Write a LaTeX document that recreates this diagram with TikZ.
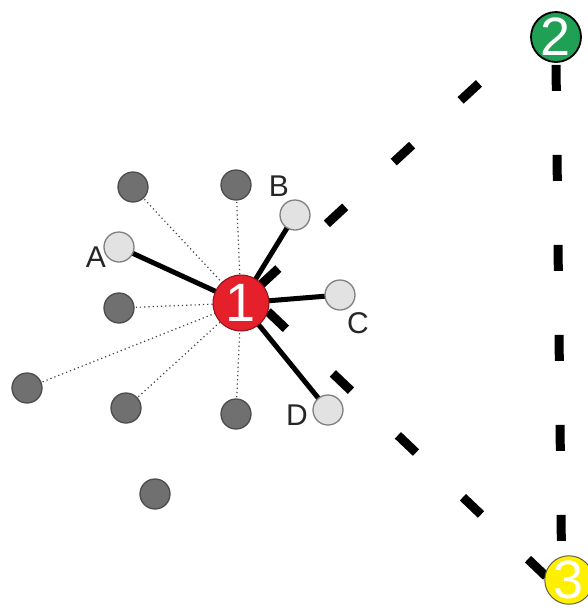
\documentclass[tikz,border=0pt]{standalone}
\usepackage{fontspec}
\setmainfont{Liberation Sans}
\usetikzlibrary{backgrounds}
\definecolor{nred}{HTML}{E5202A}
\definecolor{ngreen}{HTML}{1FA055}
\definecolor{nyellow}{HTML}{FFEF00}
\definecolor{lightfill}{HTML}{E2E2E2}
\definecolor{darkfill}{HTML}{707070}
\begin{document}
\begin{tikzpicture}[x=1pt,y=-1pt,
  bignode/.style={circle,inner sep=0pt,text=white,font=\fontsize{54}{54}\selectfont},
  lightnode/.style={circle,draw=black!50,line width=1.3pt,fill=lightfill,minimum size=30pt,inner sep=0pt},
  darknode/.style={circle,draw=black!70,line width=1.3pt,fill=darkfill,minimum size=30pt,inner sep=0pt},
  lbl/.style={inner sep=0pt,text=black!85,font=\fontsize{30}{30}\selectfont},
  spoke/.style={line width=5pt,black},
  dotline/.style={line width=1.2pt,black!75,dash pattern=on 1.2pt off 3pt},
  bigdash/.style={line width=9pt,black}]
\useasboundingbox (0,0) rectangle (587,611);
% main nodes
\node[bignode,fill=nred,draw=nred!60!black,line width=1pt,minimum size=56pt] (n1) at (241,303) {1};
\node[bignode,fill=ngreen,draw=black,line width=1.8pt,minimum size=50pt] (n2) at (556,37) {2};
\node[bignode,fill=nyellow,draw=black!70!yellow,line width=1pt,minimum size=48pt] (n3) at (569,580) {3};
% light nodes
\node[lightnode] (A) at (119,247) {};
\node[lightnode] (B) at (295,215) {};
\node[lightnode] (C) at (340,295) {};
\node[lightnode] (D) at (328,410) {};
% dark nodes
\node[darknode] (g1) at (133,187) {};
\node[darknode] (g2) at (236,185) {};
\node[darknode] (g3) at (119,308) {};
\node[darknode] (g4) at (27,388) {};
\node[darknode] (g5) at (126,408) {};
\node[darknode] (g6) at (236,414) {};
\node[darknode] (g7) at (155,494) {};
% labels
\node[lbl] (la) at (96,257) {A};
\node[lbl] (lb) at (279,186) {B};
\node[lbl] (lc) at (358,323) {C};
\node[lbl] (ld) at (297,415) {D};
% connector ends
\coordinate (e12) at (526,40);
\coordinate (s13) at (241,286);
\coordinate (e13) at (546.3,576.6);
\coordinate (e23) at (561.5,557);
\begin{pgfonlayer}{background}
  \draw[bigdash,dash pattern=on 25pt off 66pt,dash phase=65.2pt] (n1.center) -- (e12);
  \draw[bigdash,dash pattern=on 25pt off 64.8pt,dash phase=52.8pt] (s13) -- (e13);
  \draw[bigdash,dash pattern=on 26pt off 64pt,dash phase=88pt] (n2.south) -- (e23);
  \foreach \g in {g1,g2,g3,g4,g5,g6}
    \draw[dotline] (\g.center) -- (n1.center);
  \foreach \l in {A,B,C,D}
    \draw[spoke] (n1.center) -- (\l.center);
\end{pgfonlayer}
\end{tikzpicture}
\end{document}
